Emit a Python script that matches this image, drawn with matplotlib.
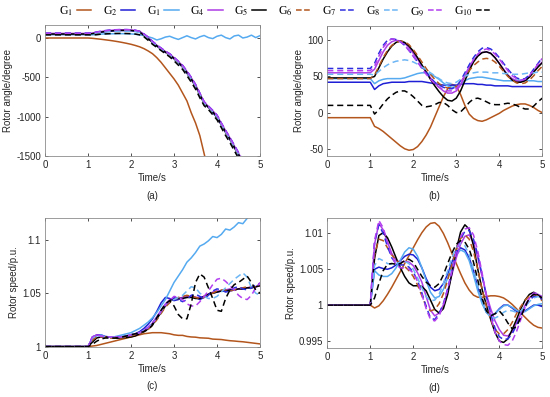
import matplotlib
matplotlib.use('Agg')
import matplotlib.pyplot as plt
from matplotlib.lines import Line2D

plt.rcParams['font.family'] = ['Liberation Sans', 'DejaVu Sans']
plt.rcParams['mathtext.fontset'] = 'stix'

# sample times (s), shared by every curve
TIME = [0, 1.0, 1.1, 1.2, 1.3, 1.4, 1.5, 1.6, 1.7, 1.8, 1.9, 2.0, 2.1, 2.2, 2.3, 2.4,
        2.5, 2.6, 2.7, 2.8, 2.9, 3.0, 3.1, 3.2, 3.3, 3.4, 3.5, 3.6, 3.7, 3.8, 3.9, 4.0,
        4.1, 4.2, 4.3, 4.4, 4.5, 4.6, 4.7, 4.8, 4.9, 5.0]

LABELS = ['G$_1$', 'G$_2$', 'G$_1$', 'G$_4$', 'G$_5$', 'G$_6$', 'G$_7$', 'G$_8$', 'G$_9$', 'G$_{10}$']

# (a) rotor angle, unstable case (degree)
ang_a_g1 = [0, 0, -4, -10, -16, -23, -30, -38, -47, -57, -68, -80, -95, -112, -135, -165,
            -200, -250, -310, -380, -450, -520, -600, -700, -800, -950, -1080, -1240, -1470, -1700, -1900, -2100,
            -2300, -2500, -2700, -2900, -3100, -3300, -3500, -3700, -3900, -4100]
ang_a_g2 = [45, 45, 52, 62, 72, 80, 86, 90, 93, 95, 95, 93, 88, 76, 42, -5,
            -58, -103, -143, -182, -220, -265, -318, -372, -448, -525, -615, -715, -820, -885, -950, -1010,
            -1105, -1200, -1290, -1390, -1490, -1590, -1690, -1790, -1890, -1990]
ang_a_g3 = [45, 45, 40, 45, 50, 52, 53, 54, 55, 55, 54, 52, 48, 40, 30, 15,
            0, -25, -10, 12, 22, 0, -18, 5, 28, 5, -12, 15, 32, 5, -8, 22,
            36, 5, -12, 26, 36, 0, 12, 36, 5, 30]
ang_a_g4 = [58, 58, 62, 72, 82, 90, 96, 100, 103, 104, 104, 102, 96, 84, 50, 8,
            -45, -92, -132, -172, -205, -250, -300, -352, -425, -505, -595, -705, -815, -870, -925, -985,
            -1085, -1180, -1270, -1370, -1465, -1565, -1665, -1765, -1865, -1965]
ang_a_g5 = [50, 50, 55, 65, 75, 83, 89, 93, 96, 97, 97, 95, 90, 78, 30, -10,
            -55, -100, -140, -180, -215, -260, -310, -365, -440, -520, -610, -720, -830, -880, -940, -1000,
            -1100, -1195, -1285, -1385, -1480, -1580, -1680, -1780, -1880, -1980]
ang_a_g6 = [48, 48, 54, 63, 73, 81, 87, 91, 94, 95, 95, 93, 88, 76, 43, -2,
            -56, -100, -140, -182, -218, -262, -312, -368, -442, -520, -612, -720, -828, -882, -942, -1002,
            -1102, -1198, -1288, -1388, -1485, -1585, -1685, -1785, -1885, -1985]
ang_a_g7 = [62, 62, 66, 76, 86, 94, 100, 104, 106, 107, 107, 104, 98, 86, 52, 10,
            -42, -88, -128, -168, -200, -245, -295, -348, -420, -500, -590, -700, -810, -865, -920, -980,
            -1080, -1175, -1265, -1360, -1455, -1555, -1655, -1755, -1855, -1955]
ang_a_g8 = [54, 54, 56, 63, 70, 76, 80, 83, 85, 86, 86, 84, 80, 70, 40, -3,
            -55, -100, -140, -180, -215, -260, -310, -365, -440, -520, -610, -720, -830, -880, -940, -1000,
            -1100, -1195, -1285, -1385, -1480, -1580, -1680, -1780, -1880, -1980]
ang_a_g9 = [60, 60, 64, 74, 84, 92, 98, 102, 105, 106, 106, 103, 97, 85, 51, 9,
            -44, -90, -130, -170, -203, -248, -298, -350, -422, -502, -592, -702, -812, -868, -922, -982,
            -1082, -1178, -1268, -1365, -1460, -1560, -1660, -1760, -1860, -1960]
ang_a_g10 = [40, 40, 38, 42, 48, 52, 55, 57, 58, 58, 57, 55, 50, 40, 15, -30,
             -80, -120, -160, -200, -240, -290, -345, -400, -480, -560, -650, -760, -860, -910, -975, -1040,
             -1140, -1240, -1330, -1430, -1530, -1630, -1730, -1830, -1930, -2030]

# (b) rotor angle, stable case (degree)
ang_b_g1 = [-7, -7, -19, -22, -26, -31, -36, -41, -46, -50, -52, -51, -47, -40, -31, -20,
            -6, 8, 22, 33, 39, 37, 25, 10, -2, -8, -11, -12, -10, -7, -4, -1,
            3, 6, 9, 11, 12, 12, 10, 7, 3, 0]
ang_b_g2 = [42, 42, 32, 37, 40, 41, 42, 42, 42, 42, 43, 43, 43, 43, 42, 41,
            40, 39, 38, 38, 38, 38, 39, 40, 40, 40, 39, 39, 38, 38, 37, 37,
            37, 37, 36, 36, 36, 36, 36, 36, 36, 36]
ang_b_g3 = [47, 47, 40, 44, 46, 47, 47, 47, 47, 48, 50, 52, 54, 55, 55, 53,
            50, 46, 41, 37, 35, 36, 40, 44, 47, 48, 49, 49, 48, 47, 46, 45,
            44, 44, 44, 45, 45, 45, 44, 44, 43, 43]
ang_b_g4 = [55, 55, 60, 72, 84, 93, 98, 100, 99, 96, 90, 82, 74, 65, 56, 48,
            41, 35, 30, 27, 27, 30, 38, 50, 62, 72, 79, 83, 84, 82, 76, 68,
            60, 52, 47, 44, 43, 45, 50, 57, 64, 70]
ang_b_g5 = [48, 48, 50, 62, 74, 84, 92, 97, 99, 97, 92, 85, 76, 66, 56, 46,
            37, 29, 22, 17, 16, 20, 30, 44, 58, 70, 78, 83, 84, 82, 76, 68,
            59, 51, 45, 42, 42, 44, 49, 56, 63, 69]
ang_b_g6 = [47, 47, 52, 64, 76, 86, 93, 97, 99, 98, 94, 87, 79, 70, 61, 53,
            46, 40, 36, 34, 34, 36, 42, 50, 58, 65, 70, 74, 75, 74, 70, 64,
            57, 50, 45, 41, 40, 41, 45, 51, 58, 64]
ang_b_g7 = [61, 61, 68, 82, 93, 100, 102, 101, 98, 93, 86, 78, 70, 62, 55, 48,
            42, 38, 35, 33, 33, 36, 44, 55, 66, 76, 84, 89, 90, 88, 83, 76,
            68, 60, 53, 48, 46, 47, 52, 60, 68, 76]
ang_b_g8 = [53, 53, 52, 57, 62, 66, 69, 71, 72, 73, 72, 70, 67, 63, 59, 55,
            51, 47, 43, 41, 40, 42, 46, 50, 53, 55, 56, 56, 56, 55, 55, 55,
            54, 54, 53, 53, 53, 54, 55, 55, 56, 56]
ang_b_g9 = [58, 58, 64, 78, 90, 98, 102, 101, 98, 93, 86, 78, 70, 61, 53, 46,
            40, 35, 32, 30, 30, 33, 41, 52, 63, 73, 81, 86, 88, 86, 81, 74,
            66, 58, 51, 47, 45, 46, 51, 59, 67, 75]
ang_b_g10 = [10, 10, -2, 4, 12, 19, 24, 28, 30, 30, 27, 22, 16, 10, 8, 9,
             11, 14, 14, 10, 4, 0, 1, 7, 14, 19, 20, 18, 15, 12, 11, 11,
             12, 13, 12, 10, 7, 5, 5, 9, 15, 20]

# (c) rotor speed, unstable case (p.u.)
spd_c_g1 = [1, 1, 1.0005, 1.001, 1.002, 1.003, 1.004, 1.005, 1.006, 1.007, 1.008, 1.009, 1.010, 1.011, 1.012, 1.0125,
            1.013, 1.013, 1.013, 1.0125, 1.012, 1.011, 1.0105, 1.0105, 1.0095, 1.009, 1.0088, 1.0082, 1.008, 1.0078, 1.007, 1.0068,
            1.0066, 1.006, 1.0055, 1.0052, 1.0048, 1.0045, 1.004, 1.0035, 1.003, 1.0025]
spd_c_g2 = [1, 1, 1.008, 1.011, 1.011, 1.0095, 1.009, 1.009, 1.009, 1.0095, 1.010, 1.011, 1.012, 1.014, 1.017, 1.021,
            1.026, 1.033, 1.041, 1.046, 1.045, 1.043, 1.044, 1.046, 1.046, 1.047, 1.046, 1.044, 1.046, 1.049, 1.050, 1.051,
            1.052, 1.053, 1.052, 1.053, 1.054, 1.054, 1.055, 1.055, 1.056, 1.057]
spd_c_g3 = [1, 1, 1.007, 1.010, 1.011, 1.009, 1.009, 1.009, 1.010, 1.011, 1.012, 1.013, 1.015, 1.017, 1.020, 1.023,
            1.027, 1.032, 1.038, 1.044, 1.052, 1.060, 1.066, 1.072, 1.079, 1.083, 1.088, 1.094, 1.096, 1.099, 1.103, 1.102,
            1.105, 1.110, 1.109, 1.112, 1.116, 1.115, 1.120, 1.124, 1.126, 1.130]
spd_c_g4 = [1, 1, 1.008, 1.011, 1.010, 1.009, 1.009, 1.009, 1.009, 1.009, 1.0095, 1.010, 1.011, 1.013, 1.015, 1.018,
            1.022, 1.028, 1.034, 1.040, 1.044, 1.045, 1.045, 1.046, 1.047, 1.047, 1.046, 1.046, 1.047, 1.049, 1.051, 1.052,
            1.052, 1.053, 1.054, 1.053, 1.054, 1.055, 1.055, 1.056, 1.056, 1.057]
spd_c_g5 = [1, 1, 1.004, 1.008, 1.009, 1.009, 1.009, 1.008, 1.008, 1.008, 1.0085, 1.009, 1.010, 1.012, 1.014, 1.017,
            1.021, 1.026, 1.032, 1.038, 1.043, 1.045, 1.045, 1.045, 1.046, 1.046, 1.045, 1.045, 1.047, 1.049, 1.050, 1.051,
            1.052, 1.052, 1.053, 1.053, 1.054, 1.054, 1.055, 1.055, 1.056, 1.057]
spd_c_g6 = [1, 1, 1.006, 1.009, 1.009, 1.009, 1.008, 1.008, 1.008, 1.008, 1.009, 1.010, 1.011, 1.012, 1.014, 1.016,
            1.020, 1.025, 1.031, 1.037, 1.041, 1.044, 1.046, 1.047, 1.048, 1.047, 1.046, 1.045, 1.046, 1.048, 1.050, 1.052,
            1.053, 1.053, 1.052, 1.053, 1.054, 1.055, 1.056, 1.056, 1.056, 1.057]
spd_c_g7 = [1, 1, 1.009, 1.011, 1.010, 1.009, 1.009, 1.009, 1.009, 1.009, 1.010, 1.011, 1.012, 1.013, 1.015, 1.018,
            1.022, 1.027, 1.033, 1.039, 1.043, 1.046, 1.044, 1.042, 1.044, 1.048, 1.049, 1.047, 1.045, 1.048, 1.052, 1.054,
            1.053, 1.051, 1.052, 1.055, 1.056, 1.054, 1.053, 1.055, 1.058, 1.059]
spd_c_g8 = [1, 1, 1.008, 1.010, 1.010, 1.009, 1.009, 1.009, 1.009, 1.009, 1.010, 1.011, 1.012, 1.013, 1.015, 1.018,
            1.022, 1.027, 1.033, 1.039, 1.043, 1.044, 1.046, 1.048, 1.052, 1.056, 1.055, 1.050, 1.047, 1.045, 1.045, 1.047,
            1.051, 1.055, 1.059, 1.063, 1.066, 1.069, 1.065, 1.055, 1.050, 1.048]
spd_c_g9 = [1, 1, 1.009, 1.011, 1.010, 1.009, 1.009, 1.009, 1.009, 1.009, 1.010, 1.011, 1.012, 1.013, 1.015, 1.018,
            1.022, 1.027, 1.033, 1.039, 1.043, 1.047, 1.046, 1.044, 1.040, 1.038, 1.038, 1.042, 1.047, 1.052, 1.058, 1.063,
            1.064, 1.061, 1.057, 1.053, 1.048, 1.045, 1.044, 1.048, 1.055, 1.060]
spd_c_g10 = [1, 1, 1.002, 1.005, 1.007, 1.008, 1.008, 1.008, 1.008, 1.009, 1.010, 1.011, 1.012, 1.013, 1.014, 1.016,
             1.020, 1.027, 1.034, 1.040, 1.043, 1.038, 1.030, 1.026, 1.026, 1.040, 1.060, 1.068, 1.065, 1.055, 1.045, 1.034,
             1.033, 1.045, 1.053, 1.058, 1.060, 1.063, 1.066, 1.060, 1.053, 1.050]

# (d) rotor speed, stable case (p.u.)
spd_d_g1 = [1, 1, 0.9996, 0.9999, 1.0006, 1.0015, 1.0025, 1.0036, 1.0047, 1.0058, 1.0069, 1.0080, 1.0091, 1.0101, 1.0109, 1.0114,
            1.0115, 1.0110, 1.0100, 1.0087, 1.0072, 1.0058, 1.0044, 1.0031, 1.0021, 1.0014, 1.0011, 1.0011, 1.0012, 1.0013, 1.0013, 1.0012,
            1.0010, 1.0006, 1.0001, 0.9995, 0.9989, 0.9983, 0.9977, 0.9972, 0.9969, 0.9968]
spd_d_g2 = [1, 1, 1.0050, 1.0053, 1.0051, 1.0050, 1.0052, 1.0056, 1.0062, 1.0068, 1.0071, 1.0070, 1.0064, 1.0052, 1.0037, 1.0025,
            1.0020, 1.0022, 1.0030, 1.0043, 1.0060, 1.0074, 1.0080, 1.0077, 1.0066, 1.0048, 1.0025, 1.0005, 0.9990, 0.9985, 0.9988, 0.9995,
            1.0000, 1.0000, 0.9996, 0.9991, 0.9990, 0.9992, 0.9996, 1.0000, 1.0000, 0.9998]
spd_d_g3 = [1, 1, 1.0048, 1.0042, 1.0040, 1.0040, 1.0044, 1.0052, 1.0063, 1.0074, 1.0080, 1.0078, 1.0068, 1.0052, 1.0034, 1.0018,
            1.0010, 1.0012, 1.0022, 1.0038, 1.0055, 1.0070, 1.0077, 1.0074, 1.0062, 1.0042, 1.0020, 1.0002, 0.9990, 0.9986, 0.9988, 0.9994,
            0.9999, 1.0000, 0.9997, 0.9993, 0.9990, 0.9991, 0.9995, 0.9999, 1.0001, 1.0002]
spd_d_g4 = [1, 1, 1.0085, 1.0114, 1.0105, 1.0088, 1.0072, 1.0062, 1.0060, 1.0061, 1.0060, 1.0055, 1.0045, 1.0032, 1.0012, 0.9993,
            0.9985, 0.9989, 1.0000, 1.0020, 1.0043, 1.0066, 1.0085, 1.0096, 1.0098, 1.0087, 1.0066, 1.0040, 1.0015, 0.9995, 0.9978, 0.9966,
            0.9958, 0.9957, 0.9963, 0.9975, 0.9988, 1.0000, 1.0010, 1.0015, 1.0015, 1.0012]
spd_d_g5 = [1, 1, 1.0065, 1.0097, 1.0101, 1.0094, 1.0081, 1.0066, 1.0052, 1.0040, 1.0031, 1.0027, 1.0027, 1.0026, 1.0020, 1.0007,
            0.9994, 0.9989, 0.9995, 1.0015, 1.0045, 1.0077, 1.0102, 1.0112, 1.0106, 1.0083, 1.0050, 1.0022, 1.0000, 0.9980, 0.9962, 0.9950,
            0.9948, 0.9953, 0.9966, 0.9980, 0.9995, 1.0007, 1.0015, 1.0018, 1.0014, 1.0008]
spd_d_g6 = [1, 1, 1.0070, 1.0092, 1.0090, 1.0080, 1.0070, 1.0063, 1.0058, 1.0054, 1.0048, 1.0040, 1.0028, 1.0013, 0.9998, 0.9992,
            0.9994, 1.0002, 1.0016, 1.0035, 1.0057, 1.0078, 1.0093, 1.0098, 1.0092, 1.0075, 1.0050, 1.0022, 0.9998, 0.9980, 0.9966, 0.9960,
            0.9960, 0.9966, 0.9976, 0.9988, 0.9998, 1.0007, 1.0013, 1.0015, 1.0012, 1.0006]
spd_d_g7 = [1, 1, 1.0088, 1.0112, 1.0100, 1.0082, 1.0066, 1.0058, 1.0056, 1.0056, 1.0053, 1.0046, 1.0034, 1.0017, 0.9998, 0.9982,
            0.9980, 0.9988, 1.0002, 1.0023, 1.0048, 1.0073, 1.0092, 1.0103, 1.0104, 1.0092, 1.0070, 1.0042, 1.0012, 0.9988, 0.9968, 0.9956,
            0.9952, 0.9953, 0.9960, 0.9972, 0.9985, 0.9997, 1.0007, 1.0012, 1.0012, 1.0008]
spd_d_g8 = [1, 1, 1.0055, 1.0065, 1.0062, 1.0058, 1.0057, 1.0058, 1.0060, 1.0061, 1.0058, 1.0050, 1.0038, 1.0024, 1.0012, 1.0006,
            1.0007, 1.0015, 1.0030, 1.0048, 1.0066, 1.0080, 1.0086, 1.0083, 1.0070, 1.0050, 1.0027, 1.0006, 0.9990, 0.9983, 0.9982, 0.9985,
            0.9990, 0.9993, 0.9992, 0.9990, 0.9992, 0.9998, 1.0005, 1.0010, 1.0012, 1.0010]
spd_d_g9 = [1, 1, 1.0090, 1.0118, 1.0108, 1.0088, 1.0068, 1.0056, 1.0052, 1.0052, 1.0050, 1.0045, 1.0033, 1.0015, 0.9995, 0.9980,
            0.9978, 0.9985, 1.0000, 1.0022, 1.0048, 1.0075, 1.0095, 1.0106, 1.0108, 1.0098, 1.0075, 1.0045, 1.0012, 0.9985, 0.9962, 0.9950,
            0.9945, 0.9944, 0.9950, 0.9963, 0.9980, 0.9997, 1.0010, 1.0017, 1.0016, 1.0010]
spd_d_g10 = [1, 1, 1.0010, 1.0030, 1.0048, 1.0057, 1.0058, 1.0057, 1.0058, 1.0062, 1.0064, 1.0060, 1.0050, 1.0040, 1.0032, 1.0027,
             1.0025, 1.0030, 1.0042, 1.0058, 1.0073, 1.0085, 1.0090, 1.0088, 1.0078, 1.0060, 1.0035, 1.0010, 0.9992, 0.9985, 0.9988, 0.9992,
             0.9985, 0.9975, 0.9967, 0.9970, 0.9983, 0.9998, 1.0010, 1.0015, 1.0014, 1.0010]

BROWN = '#b3561d'
BLUE = '#1f1fd6'
LIGHT = '#55aaf0'
PURPLE = '#ad3ce6'
COLORS = [BROWN, BLUE, LIGHT, PURPLE, 'black', BROWN, '#2d2de0', '#6cb6f5', '#b23ff0', 'black']
STYLES = ['-', '-', '-', '-', '-', '--', '--', '--', '--', '--']

panels = [
    ([ang_a_g1, ang_a_g2, ang_a_g3, ang_a_g4, ang_a_g5, ang_a_g6, ang_a_g7, ang_a_g8, ang_a_g9, ang_a_g10],
     [0.0818, 0.607, 0.391, 0.330], (-1500, 165), [0, -500, -1000, -1500], 'Rotor angle/degree', '(a)'),
    ([ang_b_g1, ang_b_g2, ang_b_g3, ang_b_g4, ang_b_g5, ang_b_g6, ang_b_g7, ang_b_g8, ang_b_g9, ang_b_g10],
     [0.595, 0.607, 0.391, 0.328], (-60, 120), [-50, 0, 50, 100], 'Rotor angle/degree', '(b)'),
    ([spd_c_g1, spd_c_g2, spd_c_g3, spd_c_g4, spd_c_g5, spd_c_g6, spd_c_g7, spd_c_g8, spd_c_g9, spd_c_g10],
     [0.0818, 0.127, 0.391, 0.323], (1, 1.12), [1, 1.05, 1.1], 'Rotor speed/p.u.', '(c)'),
    ([spd_d_g1, spd_d_g2, spd_d_g3, spd_d_g4, spd_d_g5, spd_d_g6, spd_d_g7, spd_d_g8, spd_d_g9, spd_d_g10],
     [0.595, 0.123, 0.391, 0.327], (0.994, 1.0121), [0.995, 1, 1.005, 1.01], 'Rotor speed/p.u.', '(d)'),
]

fig = plt.figure(figsize=(5.5, 3.97), dpi=100)
txt = '#262626'
for series, pos, ylim, yticks, ylabel, tag in panels:
    ax = fig.add_axes(pos)
    for ys, c, ls in zip(series, COLORS, STYLES):
        ax.plot(TIME, ys, color=c, ls=ls, lw=1.1, dashes=(4, 2.5) if ls == '--' else (None, None))
    ax.set_xlim(0, 5)
    ax.set_ylim(*ylim)
    ax.set_xticks([0, 1, 2, 3, 4, 5])
    ax.set_yticks(yticks)
    ax.set_yticklabels(['%g' % v for v in yticks])
    ax.tick_params(direction='in', top=True, right=True, length=2.5, width=0.6,
                   labelsize=7, colors='#333333', labelcolor=txt, pad=3)
    for s in ax.spines.values():
        s.set_color('#8c8c8c')
        s.set_linewidth(0.6)
    ax.set_xlabel('Time/s', fontsize=7, color=txt, labelpad=2)
    ax.set_ylabel(ylabel, fontsize=7, color=txt, labelpad=2)
    ax.text(0.5, -0.265, tag, transform=ax.transAxes, ha='center', va='top', fontsize=7, color=txt)

handles = [Line2D([], [], color=c, ls=ls, lw=1.1) for c, ls in zip(COLORS, STYLES)]
fig.legend(handles, LABELS, loc='center', bbox_to_anchor=(0.5, 0.972), ncol=10, frameon=False,
           markerfirst=False, handlelength=1.2, handletextpad=0.3, columnspacing=1.0,
           prop={'family': 'Liberation Serif', 'size': 8.5})

fig.savefig('out.png', dpi=100)
